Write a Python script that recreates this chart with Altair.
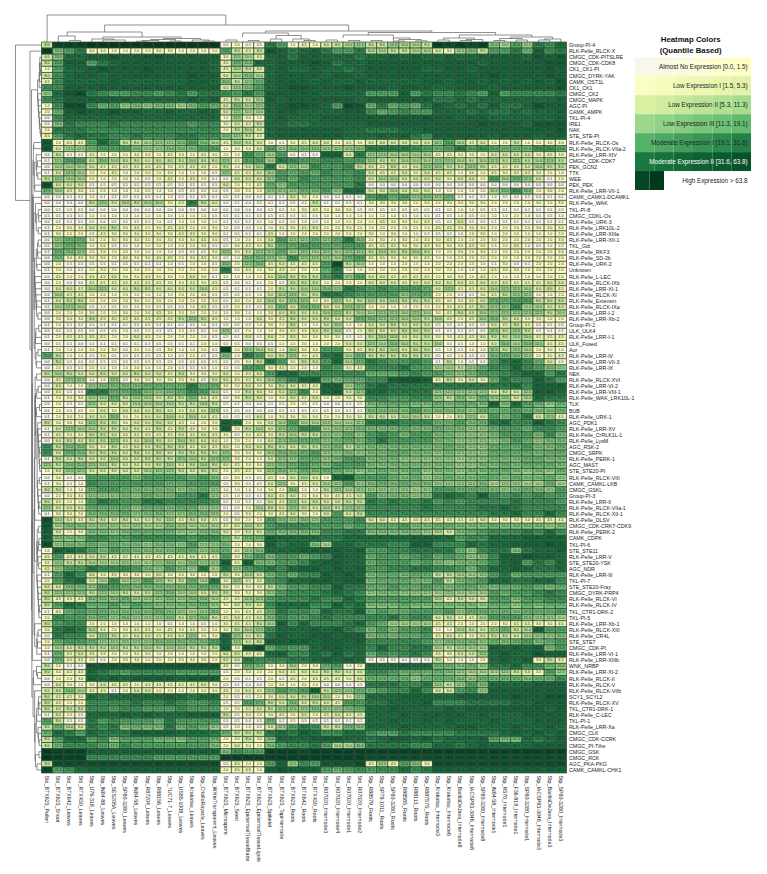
import altair as alt
import numpy as np
import pandas as pd

columns = ["Std_BTX623_Pollen","Std_BTX623_Shoot","Std_BTX642_Leaves","Std_RTX430_Leaves","Stp_U76-318_Leaves","Stp_IN84-88_Leaves","Stp_SES205A_Leaves","Stp_SP80-3280_Leaves","Stp_IN84-58_Leaves","Stp_R87204_Leaves","Stp_R88156_Leaves","Stp_TUC71-7_Leaves","Stp_US85-1008_Leaves","Stp_Krakatau_Leaves","Stp_CriolloRayada_Leaves","Stp_WhiteTransparent_Leaves","Std_BTX623_Microspore","Std_BTX623_Seed","Std_BTX623_EpidermalTissueBlade","Std_BTX623_EpidermalTissueLigule","Std_BTX623_Spikelet","Std_BTX623_Topinternode","Std_BTX623_Roots","Std_BTX642_Roots","Std_RTX430_Roots","Std_R07020_Internode3","Std_R07020_Internode4","Std_R07020_Internode1","Std_R07020_Internode2","Stp_R88579_Roots","Stp_SP79-1011_Roots","Stp_SP80-3280_Roots","Stp_R88585_Roots","Stp_R88113_Roots","Stp_R88757S_Roots","Stp_Krakatau_Internode3","Stp_Krakatau_Internode6","Stp_BadilaDeJava_Internode8","Stp_IACSP93-3046_Internode8","Stp_SP80-3280_Internode8","Stp_IN84-58_Internode1","Stp_R570_Internode1","Stp_F36-819_Internode1","Stp_SP80-3280_Internode1","Stp_IACSP93-3046_Internode3","Stp_BadilaDeJava_Internode3","Stp_SP80-3280_Internode3"]

rows = ["Group-PI-4","RLK-Pelle_RLCK-X","CMGC_CDK-PITSLRE","CMGC_CDK-CDK8","CK1_CK1-PI","CMGC_DYRK-YAK","CAMK_OST1L","CK1_CK1","CMGC_CK2","CMGC_MAPK","AGC-PI","CAMK_AMPK","TKL-PI-4","IRE1","NAK","STE_STE-PI","RLK-Pelle_RLCK-Os","RLK-Pelle_RLCK-VIIa-2","RLK-Pelle_LRR-XIV","CMGC_CDK-CDK7","PEK_GCN2","TTK","WEE","PEK_PEK","RLK-Pelle_LRR-VII-1","CAMK_CAMK1-DCAMKL","RLK-Pelle_WAK","TKL-PI-8","CMGC_CDKL-Os","RLK-Pelle_URK-3","RLK-Pelle_LRK10L-2","RLK-Pelle_LRR-XIIIa","RLK-Pelle_LRR-XII-1","TKL_Gdt","RLK-Pelle_RKF3","RLK-Pelle_SD-2b","RLK-Pelle_URK-2","Unknown","RLK-Pelle_L-LEC","RLK-Pelle_RLCK-IXb","RLK-Pelle_LRR-XI-1","RLK-Pelle_RLCK-XI","RLK-Pelle_Extensin","RLK-Pelle_RLCK-IXa","RLK-Pelle_LRR-I-2","RLK-Pelle_LRR-Xb-2","Group-PI-2","ULK_ULK4","RLK-Pelle_LRR-I-1","ULK_Fused","Aur","RLK-Pelle_LRR-IV","RLK-Pelle_LRR-VII-3","RLK-Pelle_LRR-IX","NEK","RLK-Pelle_RLCK-XVI","RLK-Pelle_LRR-VI-2","RLK-Pelle_LRR-VIII-1","RLK-Pelle_WAK_LRK10L-1","TLK","BUB","RLK-Pelle_URK-1","AGC_PDK1","RLK-Pelle_LRR-XV","RLK-Pelle_CrRLK1L-1","RLK-Pelle_LysM","AGC_RSK-2","CMGC_SRPK","RLK-Pelle_PERK-1","AGC_MAST","STE_STE20-PI","RLK-Pelle_RLCK-VIII","CAMK_CAMKL-LKB","CMGC_GSKL","Group-PI-3","RLK-Pelle_LRR-II","RLK-Pelle_RLCK-VIIa-1","RLK-Pelle_RLCK-XII-1","RLK-Pelle_DLSV","CMGC_CDK-CRK7-CDK9","RLK-Pelle_PERK-2","CAMK_CDPK","TKL-PI-6","STE_STE11","RLK-Pelle_LRR-V","STE_STE20-YSK","AGC_NDR","RLK-Pelle_LRR-III","TKL-PI-7","STE_STE20-Fray","CMGC_DYRK-PRP4","RLK-Pelle_RLCK-VI","RLK-Pelle_RLCK-IV","TKL_CTR1-DRK-2","TKL-PI-5","RLK-Pelle_LRR-Xb-1","RLK-Pelle_RLCK-XIII","RLK-Pelle_CR4L","STE_STE7","CMGC_CDK-PI","RLK-Pelle_LRR-VI-1","RLK-Pelle_LRR-XIIIb","WNK_NRBP","RLK-Pelle_LRR-XI-2","RLK-Pelle_RLCK-II","RLK-Pelle_RLCK-V","RLK-Pelle_RLCK-VIIb","SCY1_SCYL2","RLK-Pelle_RLCK-XV","TKL_CTR1-DRK-1","RLK-Pelle_C-LEC","TKL-PI-1","RLK-Pelle_LRR-Xa","CMGC_CLK","CMGC_CDK-CCRK","CMGC_PI-Tthe","CMGC_GSK","CMGC_RCK","AGC_PKA-PKG","CAMK_CAMKL-CHK1"]

# letter -> value (the cell text is only just legible)
levels = dict(a=0.0,b=0.1,c=0.5,d=1.0,e=2.0,f=3.0,g=4.5,h=6.0,i=8.0,j=10.0,k=12.5,l=15.0,m=17.5,n=21.0,o=25.0,p=29.0,q=35.0,r=42.0,s=50.0,t=58.0,u=70.0,v=90.0,w=120.0)

# one row per line; groups: 1 | 3 | 12 | 4 | 2 | 3 | 4 | 6 | 5 | 7 columns
cells = """
i uuu vvvvvvvvvvvv cecc pn dge hijk iikjji ututu ljnkpoq
v lnp ffedeeffdede nigi sr pqr pnnp jjiijj hfkli nnpmrop
h lqq rrsrrssrrrrr fkjg qr prr qqqp qqrqrq qrqqr rrrqsrs
i nrr npqrrrrrrrrq gmlq qr rrs rpqq rrrrrr rrrrq rrrrrss
d nqq rsrrrsrrrrrq gjih qr qqr qqpq rrrrrq qrrqr rrrrrsr
i oqr rqrrrrrrrsrr hjlj qr rrr qrrq rrrrrr rrrrr srrrrsr
g oqq qqrqqqqqqrrq likm qr rrq rqqr qqqqqr rqrrq rqrqrqs
o orr rrrrrrrrrrrr hkln qr ssr rrsr rrqrrr qqrrr qrrrrrs
k qst ponnoonopnpp onpn rr rrr qqqq nnnrnp oopon rnoooop
o prr rrrrqqqqqrqr gihj rq rrr rrrq rrrrrr ppqpq qqqqqqr
d ott omnklklljlnm hljk qr ssr qnts mpmnmp rqpqp rppqsrr
e mrs rrsrrqqrqqrq hkjj qr rqq qqrr omnonn qqqpq ppqpqqr
a oqq qqqqqqqqqqqq dkfd qr qqq rrrr rrrrrs rrqrr qqqqqqr
c lpo oopoooooonoo fhgi qq ppq qqqq rrrrrr rrrrs rrrqsss
e ppp oooooooooooo eijh qr rrr rrqq pppqqr rrrrr rrrrrrs
g npq ppoopoooppoo lkig qr rrr rrqq qrqrpo rrrrr qrrrqrr
s egg nqoiijkklnlj gjih dc fgh hegf hhhhhh knjgh eeideff
s hkk mnnnlkkllln n dffh nk lll kkkl ppppon mnpno nmmmoon
a icc geeeffegfegf edom jn cbb rrhp kkjjjj ggffe hhhhfgf
b knn iljiihiiijii kgnn jp onn oonn kiijjj kkjij kikijki
a jjj hggggggfggg eidh jp hkj onno ihgigh kkiik iggghji
b hkj eegdefefddd c kggh jn mnm onno hgghfh ggdfe gfggfed
i kjj edeedcegegeb chhh kn mon nnno hjjhhh hfhhe njmkhbe
t hhh cccccccccccc heeg mk nnn nnnp aaaaaa aaaaa aaaaaaa
m jgf dedddeddcccd ceee kk kml nkqq hhjhhh ddddd jlolefe
a abb dbbcbcbdbbcb cbaa bb hfe abbb nomnkl kmcbb dcccabb
a aaa ikhjijjfgpih abac bb cbi bbcb ffffef effff eeeefef
a ccc aaaaaaaaaaaa aaaa cc dfg effc cccccc bcddc cbbbbcc
c ccb dddddddddddc cbbc cc ccc dddd dddcdc bcdcd ddedccd
a cbb cacbccdbddd d bbbb dc cdc ddee egfffg cchcc bbbbbcb
b eff hhifgefggeef dccd df fgh eefe eeeeee ggfff eeeefff
b fee cgffffffggff bcbb gd eee eeee fdfddc ccdef deeddde
a kmm feffffffffgf cdee hn kkm kmpl efefef fgeee feeeeef
c kml dfcbddedeefc cfgf im mnn mmnn gggffg fffgf cegdcdc
b mlk efeeddddcccf kfhk km jkj kjkk ijiiji defef eeeeeef
a lfg ffegffggefgf cdll kj okk kjmn ggfffg ddeee eedeeee
a ecc ccbcbbbdbddc lekl gh ggg ntij dddedd eeeed bfabeee
b ecb efeeeeeeeeee pcge fg eee mpdd eeeeee eeddd gffeeee
a gee gghffgffehfb ddde hj iii npkn hhgggg effeg eddddee
a eaa gggggggffgfg ccbb ec iii eeee hhhghh hhhgh hhggghh
a hhg jkhhiihhhhjg cbcb ei ijj lkpo nonnnm hkggh jkkjhig
a jgg eededdddeefc cccd hj kii ppon nnnkmm eecbf gikkdde
b hii eeeefefeeee f cfeg ji kkf fkhi jijiii gffgh mmnniii
c jkj cdccddcccdgc cecc hl hll hhkk eeddee efggi kkojjhh
a eee feefefgffeee dfdd fh ihh jkij jkkjkj fgihj kkkkkij
a fff igggggggikig dddh fg ihh ihhm lkkjji jgegj lihffee
b dbb cbbbccbbbcdb cccd fe idd hjde hhihhh ccccc hgigccc
a ccc cccdcdbbdcbd kbed df gfh ijce ihhiii bbbbc kikicbb
b egg ggeehgeeeedc cbhc he hff ffcc ijjhhi ffggh iijjggg
a cba bbbbbbccbbed ccac cd eed eehh kjljii jccdd hljlkgg
b edd eefcedcfddec uekj hd jff nnfg iijhii cdcdd kikjefd
n idd cfcccccdcecc ldpn hi kfg pqjm iiiiii ccdcc lmlkefg
a icc cccccccccccc ccfi pn fii nqjm ponnon bidbb npqomhc
a ecc edddeddecccd dcnn fg eed onfg ooopnn jjikm ooqonlk
i jih hihhihhgifff hegh nq qoo oooo mmmnon nlkln nopqqnp
a gkk ddkcffffffch hggh jm oqr mlmm oorssr gifhf mpoorpn
a hdd kllllmmmmpmm fehf fi hgg rrjm pqpppp ppppp ppqorrr
a gcc ppmmnlklmonj cdih fh koe qrhk qqpppp kkkkk hihkrrq
b eff jjmijjhiilhg cfih df hgh deff oonnoo kiljm kkhjqpp
a ecc khhhjjjjiiji cbaa bc ecc aacc lmmmll mlmml rlqnmkm
a ecc ehfhhhihghhk ccaa ac bcb ccbb llllnl lllkm mmnmllm
b efe hhlfehhjhjhg ccch df fff eeff iihjji eeikh nlnphkg
i fff kiifhhihgdef rqef hj njj kjjk pppooo mmnlm pqoorpo
b hkj jiihhgigigf f reij hk moo jkkl lllmll mllkk mnnmoon
b gff iihggggghghg fcfg fi jii kkmk nonlnn llkkk lnnnlol
a hih iikhhjihjihh deed hk lmm klml npnnnn llkkk klnmkll
o ill hfighhiiighg hdhh ii hii klik llllll lmlkk mmmnllm
o hml iiihihihiiii keff jl lmn kklk llmmll klkkk mmmmlmm
b ihi hhjhhiiikjik kfed hk kmm klnn lllkkk kkjkk lllmmll
k ill kjihhhijhiji hgff kl mnm lnnn llllll llkkl lmlmmml
d hkk hhhhhjkkihii eggf kl kml mmlk lmllmk llkll mmlklkm
a fcc nnnnlnnnnmnl cfcc gd hjh dqrn nnmlmk lmllm mlmllmk
b fcd onnnnnnmmnnn cfcc hk fgh jknk lmlmll kkkkl jkkjjmj
i idd mnnmllllklmk dddd fe ldd ikjk kkkkjk nnmmm lklmlkn
a eff kkklkmllnnpk cdcb hg hef fggh nlllkl pqpor onononn
i gee nponnppoooon cdcb hg khi hhii popoop nonoo oopooon
k hhh mmmmkmmlmmkk bcej ih kih jikk ooooop oooop pqpoooo
b ffe lllmkllkkllk ecfe fg hfe hnhi oooooo ooooo ppqooqo
t jhg iihihhijgihg cfee nl klk nnno hhgggg ggggh ffffggg
s jll kkkjkjjlkjjj ghji no oon nnmn mmmnll mmlll mllllkl
r hef llklmmmmkkll hehh ml lll oopp lllllk jhlmn ooopoqo
r lll oonnooooonoo mimm rq qqq ppqq qqqqrr qqnoo qqqrrrr
t kll mlmllkllknkk leef rp qql jqqp ppoorr oooqp qqrrrsr
d rqp nlnmllllmmkl mgkl qq qrr rrqr nnoopp ppmko pplpqqr
g ngg higgggggghgg nfln ln nmn orqq mnnmno mnmkl orrsrrq
f kii jjjkjjkljlkk rgrl ln noq rrqq mnnnmn lkllm oqrnpoq
g knn pooonlknlkpj pkno po qrr qrqr nnoopp oonlo qqrqppq
b nqo hfgfffhfffee ifjh ln moo rqrq lmmlmm iijjk npmnnnn
e npq hjojknkiimjp fkgg no qqr rqrr lmmmll nilmn qqppqqo
h hll knnmllllllmm heff il nno orpp mmnmmn mlmml lmmnmlm
i kkk ikjihikljjhi ifff kn ooo pqpo kllkkk jkjjj nmnnopo
i ggg lllmkkklkllj ggkk no oop ooqp nnnnnn jgihh nnlnnoo
i nqp mmnlnmllllmk fhih oq qqo orpq lllmll llllk mmkmlmm
b gmn mmllllmlkjkl efgg mp oon qppr mnmmnn mnkmm mmlmmmn
e onn lmklkkklikli ghgh lo nno pooo oopnoo higgj nnnlkkj
i noo eedddddcddcd fggi jr oqo oopq nmjjjj ggeee efggffg
f pqp jgefggfgfgee fijk oq qqr qrpo lnlnno ddjih kmijrnn
a poo hkighhghhkff qkhi pr qqr rqrr lmlmmn ghgfh iihjkkl
e mnn mkkkkkllllln qkhi rr rrq rrqr ooooon klllk mlmnlmn
d jhi iijiijijjiii rfst mo nnq rrqq oqoopp jijjj rqrqrln
b mgh gfeeffdeddde hhgg qr ooq prpq monopo gfhhk qrqqsrr
a mgg eceffdeefffe hhpo oo ppq rqrq cccbbb iddde qrqrfig
i ebb ssssssssssss gcml ef jef mnde qqqrqq mmlmk ppqooml
i fgg qponoooonnnn cefe eh ghh iihh oonmmm mlkjj jkihfnk
a eef rqrqrrrrqrrr ecbb ec geg ggfh mmmmkm mmlkm mmmlmmo
a hfd fhggeggggghf cbaa ef dfe aaac pppoop kiknl qqqqrrr
h ilj ggbehheedeef gehg kn mnr ikkm mnooqo hhnok rrrrrrr
i ggf qpqqqqqrqpqq ecce fh hij jefk qqqrrr qqrrr rrsrrss
i gee oooopooponn o ccnm ih lhi hgnn ppqqqr ooopp ppqqrrr
i hii oonoonnnonnn eegh ik kkl kklm qqrqqq qrqrr rrrrrqr
b hec qqqrqrqqqrrr icfe fg ehe ghgg qqqrqr rrrqr qqqrrrr
n icc pnonnnmpnnnn ccac mb ccc bbbb qqrqqr qrqqq rqqqrrr
i mjh poplmllpmnmk cddc hk npo iiml qqqrqq qqrrq qqrqqrq
m qpn qppprrrrqqqp miii pq prq ooqq onnpoo ooppp pqrqrqr
i nqq nolnnnmmlnnm efif lq qqr rrqq pqrrqr pqqqr nmmqpqr
i moo onmonnnnnnnl ehfe ln oop njjl ppppoo qqpqr qqqqrrr
v uuu rrrrrrrrrrrr lonn uu utu uuuu uuuuuu uuuuu uuuuuuu
v uuu oooooonnnnnn uuuu uu uuu uuuu tttttt ttttt ttttttt
i ttt tttttttttttt cgee nr kon ssst gkgnlf ttttt ttttttt
u noq rrrrrrrrrrrr eggd rs rrr nmno nooqop rrrrr rrrrrrr
"""

# dendrogram over the columns: child a, child b, height, height of a, height of b
col_tree_a = [1,6.15,2.8,2,3,5,6,6,9,9.5,12,10.25,15,14,11.4,20.55,18.5,17,19,21.5,21,23,24,29.75,27.5,26,28,32,30,32.5,32,34,37.9,36.5,36,38.5,38,42.5,41.5,41,43,45.5,45]
col_tree_b = [17,28,9.5,3.5,4,7,8,13,10,11,13,12.5,16,15.5,14.75,35.45,22.6,18,20,23.75,22,24.5,25,41.15,32,27,29,33.5,31,34.5,33,35,44.4,39.25,37,40,39,46.25,43.5,42,44,47,46]
col_tree_h = [27,17,10,6,1.5,3,2,5,0.8,1.5,1,2.5,1,2,3.5,11,9,2,1.5,6.5,3,3,1.5,9.5,7,2,1.5,4,1.5,2.5,1,1.2,7,4,2,2.5,1.5,5,3.5,1.5,2,3,2]
col_tree_ha = [0,10,6,0,0,0,0,3,0,0.8,0,1.5,0,0,2.5,9,5,0,0,3,0,0,0,7,4,0,0,1.5,0,1,0,0,4,2,0,1.5,0,3.5,1.5,0,0,2,0]
col_tree_hb = [17,11,5,1.5,0,2,0,3.5,0,0,0,1,0,1,2,9.5,6.5,0,0,3,0,1.5,0,7,4,0,0,2.5,0,1.2,0,0,5,2.5,0,0,0,3,2,0,0,0,0]

legend_labels = ["Almost No Expression [0.0, 1.5)","Low Expression I [1.5, 5.3)","Low Expression II [5.3, 11.3)","Low Expression III [11.3, 19.1)","Moderate Expression I [19.1, 31.6)","Moderate Expression II [31.6, 63.8)","High Expression > 63.8"]
legend_bins = [(0.0,1.5),(1.5,5.3),(5.3,11.3),(11.3,19.1),(19.1,31.6),(31.6,63.8),(63.8,120.0)]

scale_stops = [0,1.5,5.3,11.3,19.1,31.6,63.8,120]
scale_cols = ["#f8f8ee","#ffffc4","#dff2a6","#a2db8d","#5db76d","#1c7d44","#064d29","#00331a"]

matrix = []
for line in cells.strip().splitlines():
    s = line.replace(" ", "")
    s = (s + s[-1] * 47)[:47]
    matrix.append([levels[ch] for ch in s])
matrix = np.array(matrix)

heat = pd.DataFrame([
    {"col": c, "row": r, "v": float(matrix[i, j]), "t": f"{matrix[i, j]:.1f}"}
    for i, r in enumerate(rows) for j, c in enumerate(columns)
])

FONT = "Liberation Sans"
W, H = 525, 731
xband = alt.Scale(type="band", domain=columns, paddingInner=0, paddingOuter=0)
yband = alt.Scale(type="band", domain=rows, paddingInner=0, paddingOuter=0)

rect = alt.Chart(heat).mark_rect(stroke="#3a3a3a", strokeWidth=0.7).encode(
    x=alt.X("col:N", scale=xband, sort=None, title=None,
            axis=alt.Axis(labelAngle=90, labelAlign="left", labelBaseline="middle", labelFontSize=5.3,
                          labelFont=FONT, labelPadding=2, ticks=False, domain=False, grid=False,
                          labelLimit=200, labelOverlap=False, labelColor="#222")),
    y=alt.Y("row:N", scale=yband, sort=None, title=None,
            axis=alt.Axis(orient="right", labelFontSize=5.3, labelFont=FONT, labelPadding=2, ticks=False,
                          domain=False, grid=False, labelLimit=200, labelOverlap=False, labelColor="#222")),
    color=alt.Color("v:Q", legend=None, scale=alt.Scale(domain=scale_stops, range=scale_cols, interpolate="rgb", clamp=True)),
)
text = alt.Chart(heat).mark_text(fontSize=3.7, font=FONT, color="#1c1c1c").encode(
    x=alt.X("col:N", scale=xband, sort=None, axis=None),
    y=alt.Y("row:N", scale=yband, sort=None, axis=None),
    text="t:N",
)


def segs(a, b, h, ha, hb):
    out = []
    for p, q, u, ua, ub in zip(a, b, h, ha, hb):
        out.append(dict(p0=p, p1=q, h0=u, h1=u))
        out.append(dict(p0=p, p1=p, h0=ua, h1=u))
        out.append(dict(p0=q, p1=q, h0=ub, h1=u))
    return pd.DataFrame(out)


top = alt.Chart(segs(col_tree_a, col_tree_b, col_tree_h, col_tree_ha, col_tree_hb)).mark_rule(color="#5e5e5e", strokeWidth=0.7).encode(
    x=alt.X("p0:Q", axis=None, scale=alt.Scale(domain=[0.5, 47.5], nice=False, zero=False)),
    x2="p1:Q",
    y=alt.Y("h0:Q", axis=None, scale=alt.Scale(domain=[0, 28], range=[0, -28], nice=False, zero=False)),
    y2="h1:Q",
)

# row tree: adjacent rows joined in order of their read-off distance
lv = np.log1p(matrix)
clusters = [dict(idx=[i], pos=float(i + 1), h=0.0) for i in range(2, len(rows))]
rta, rtb, rth, rtha, rthb = [], [], [], [], []
while len(clusters) > 1:
    d = [np.abs(lv[clusters[k]["idx"]].mean(0) - lv[clusters[k + 1]["idx"]].mean(0)).mean() for k in range(len(clusters) - 1)]
    k = int(np.argmin(d))
    l_, r_ = clusters[k], clusters[k + 1]
    hh = max(d[k] * 6.5, l_["h"] + 0.3, r_["h"] + 0.3)
    rta.append(l_["pos"]); rtb.append(r_["pos"]); rth.append(hh); rtha.append(l_["h"]); rthb.append(r_["h"])
    clusters[k:k + 2] = [dict(idx=l_["idx"] + r_["idx"], pos=(l_["pos"] + r_["pos"]) / 2, h=hh)]
root = clusters[0]
peak = max(rth)
rth = [v * 10 / peak for v in rth]
rtha = [v * 10 / peak for v in rtha]
rthb = [v * 10 / peak for v in rthb]
rta += [2.0, 1.0]
rtb += [root["pos"], (2.0 + root["pos"]) / 2]
rth += [11.5, 26.0]
rtha += [0.0, 0.0]
rthb += [10.0, 11.5]

left = alt.Chart(segs(rta, rtb, rth, rtha, rthb)).mark_rule(color="#5e5e5e", strokeWidth=0.7).encode(
    y=alt.Y("p0:Q", axis=None, scale=alt.Scale(domain=[0.5, 120.5], range=[0, H], nice=False, zero=False)),
    y2="p1:Q",
    x=alt.X("h0:Q", axis=None, scale=alt.Scale(domain=[0, 27], range=[0, -27], nice=False, zero=False)),
    x2="h1:Q",
)

# colour key
key_cells = []
for i, (lo, hi) in enumerate(legend_bins):
    parts = 2 if i == 6 else 6
    span = 0.25 if i == 6 else 1.0
    for n in range(parts):
        mid = lo + (hi - lo) * (n + 0.5) / parts
        rgb = None
        for a, b, ca, cb in zip(scale_stops[:-1], scale_stops[1:], scale_cols[:-1], scale_cols[1:]):
            if a <= mid <= b:
                t = (mid - a) / (b - a)
                pa = [int(ca[q:q + 2], 16) for q in (1, 3, 5)]
                pb = [int(cb[q:q + 2], 16) for q in (1, 3, 5)]
                rgb = "#%02x%02x%02x" % tuple(int(u + (w - u) * t) for u, w in zip(pa, pb))
                break
        key_cells.append(dict(x0=span * n / parts, x1=span * (n + 1) / parts, y0=i, y1=i + 1, c=rgb))
key_x = alt.Scale(domain=[0, 1], range=[593.5, 709.5], nice=False, zero=False)
key_y = alt.Scale(domain=[0, 7], range=[15.3, 148], nice=False, zero=False)
key_rect = alt.Chart(pd.DataFrame(key_cells)).mark_rect().encode(
    x=alt.X("x0:Q", scale=key_x, axis=None), x2="x1:Q",
    y=alt.Y("y0:Q", scale=key_y, axis=None), y2="y1:Q",
    color=alt.Color("c:N", scale=None, legend=None),
)
key_txt = alt.Chart(pd.DataFrame([
    dict(x=0.97, y=i + 0.5, s=s, c="#ffffff" if i == 5 else "#222222") for i, s in enumerate(legend_labels)
])).mark_text(align="right", baseline="middle", fontSize=6.3, font=FONT).encode(
    x=alt.X("x:Q", scale=key_x, axis=None),
    y=alt.Y("y:Q", scale=key_y, axis=None),
    text="s:N",
    color=alt.Color("c:N", scale=None, legend=None),
)
key_title = alt.Chart(pd.DataFrame([
    dict(x=0.48, y=-0.91, s="Heatmap Colors"), dict(x=0.48, y=-0.35, s="(Quantile Based)"),
])).mark_text(align="center", baseline="middle", fontSize=7.8, fontWeight="bold", font=FONT, color="#111").encode(
    x=alt.X("x:Q", scale=key_x, axis=None),
    y=alt.Y("y:Q", scale=key_y, axis=None),
    text="s:N",
)

chart = alt.layer(rect, text, top, left, key_rect, key_txt, key_title).resolve_scale(
    x="independent", y="independent", color="independent"
).properties(
    width=W, height=H,
    autosize="none",
    padding={"left": 33.5, "top": 34, "right": 192.5, "bottom": 95},
).configure_view(stroke=None)

chart.save("out.html", embed_options={"renderer": "svg", "actions": False})
